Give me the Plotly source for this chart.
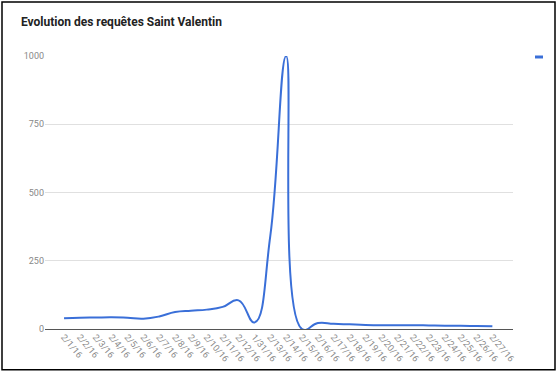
import plotly.graph_objects as go

dates = ["2/1/16", "2/2/16", "2/3/16", "2/4/16", "2/5/16", "2/6/16", "2/7/16",
         "2/8/16", "2/9/16", "2/10/16", "2/11/16", "2/12/16", "1/31/16",
         "2/13/16", "2/14/16", "2/15/16", "2/16/16", "2/17/16", "2/18/16",
         "2/19/16", "2/20/16", "2/21/16", "2/22/16", "2/23/16", "2/24/16",
         "2/25/16", "2/26/16", "2/27/16"]
requests = [39, 41, 42, 43, 41, 38, 46, 62, 67, 71, 81, 105, 24,
            340, 1000, 0, 22, 19, 17, 15, 14, 14, 14, 13, 12, 12, 11, 10]
y_ticks = [0, 250, 500, 750, 1000]
title = "Evolution des requêtes Saint Valentin"

W, H = 560, 376
L, R, T, B = 45, 513, 56, 331
pw, ph = R - L, B - T

def px(x):
    return (x - L) / pw

def py(y):
    return (B - y) / ph

fig = go.Figure()
fig.add_trace(go.Scatter(
    x=dates, y=requests, mode="lines",
    line=dict(color="#3a6fd8", width=2, shape="spline", smoothing=1.3),
    showlegend=False, hoverinfo="x+y",
))

fig.update_layout(
    width=W, height=H,
    margin=dict(l=L, r=W - R, t=T, b=H - B),
    paper_bgcolor="white", plot_bgcolor="white",
    font=dict(family="Roboto, Arial, sans-serif", color="#757575"),
    title=dict(text="<b>" + title + "</b>", x=21 / W, xanchor="left",
               y=1 - 22 / H, yanchor="middle", xref="container", yref="container",
               font=dict(size=12, color="#222222", family="Roboto, Arial, sans-serif")),
    xaxis=dict(type="category", tickmode="array", tickvals=dates, ticktext=dates,
               tickangle=50, tickfont=dict(size=9, color="#888888"),
               showgrid=False, showline=False, zeroline=False, ticks="",
               range=[-1.2, len(dates) + 0.3]),
    yaxis=dict(range=[0, 1000], tickvals=y_ticks, ticktext=[str(v) for v in y_ticks],
               tickfont=dict(size=9, color="#888888"),
               showgrid=True, gridcolor="#e0e0e0", gridwidth=1,
               zeroline=True, zerolinecolor="#555555", zerolinewidth=1,
               showline=False, ticks=""),
    shapes=[
        dict(type="rect", xref="paper", yref="paper",
             x0=px(2), x1=px(555), y0=py(372), y1=py(1.5),
             line=dict(color="black", width=1.5), fillcolor="rgba(0,0,0,0)", layer="above"),
        dict(type="rect", xref="paper", yref="paper",
             x0=px(535), x1=px(543), y0=py(58.5), y1=py(55.5),
             line=dict(width=0), fillcolor="#3a6fd8"),
    ],
)

fig.write_html("out.html", config={"displayModeBar": False},
               post_script="document.body.style.margin='0';")
